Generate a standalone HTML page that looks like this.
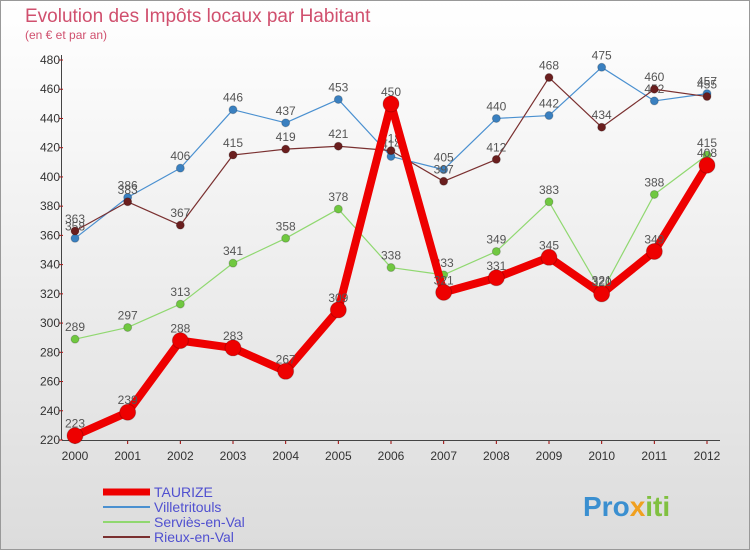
<!DOCTYPE html>
<html><head><meta charset="utf-8"><style>
body{margin:0;width:750px;height:550px;overflow:hidden;font-family:"Liberation Sans",sans-serif}
</style></head><body>
<svg id="c" width="750" height="550" xmlns="http://www.w3.org/2000/svg">
<defs><linearGradient id="bg" x1="0" y1="0" x2="0" y2="1"><stop offset="0" stop-color="#ffffff"/><stop offset="1" stop-color="#dcdcdc"/></linearGradient></defs>
<rect x="0.5" y="0.5" width="749" height="549" fill="url(#bg)" stroke="#999"/>
<text x="25" y="22" font-size="19" fill="#d0506e">Evolution des Impôts locaux par Habitant</text>
<text x="25" y="39" font-size="12" fill="#d0506e">(en € et par an)</text>
<g id="axes"></g><g id="series"></g><g id="legend"></g>
<text x="583" y="516" font-size="28" font-weight="bold" fill="#3a8fd0">Pro<tspan fill="#f0a020">x</tspan><tspan fill="#80c040">iti</tspan></text>
</svg>
<script>
const years=[2000,2001,2002,2003,2004,2005,2006,2007,2008,2009,2010,2011,2012];
const yTicks=[220,240,260,280,300,320,340,360,380,400,420,440,460,480];
const taurize=[223,239,288,283,267,309,450,321,331,345,320,349,408];
const villetritouls=[358,386,406,446,437,453,414,405,440,442,475,452,457];
const servies=[289,297,313,341,358,378,338,333,349,383,321,388,415];
const rieux=[363,383,367,415,419,421,418,397,412,468,434,460,455];
const NS="http://www.w3.org/2000/svg";
const X0=75,X1=707,Y0=440,Y1=60;
const xs=i=>X0+(X1-X0)*i/(years.length-1);
const ys=v=>Y0-(v-220)/(480-220)*(Y0-Y1);
function mk(t,a,p){const e=document.createElementNS(NS,t);for(const k in a)e.setAttribute(k,a[k]);p.appendChild(e);return e;}
const ax=document.getElementById('axes');
yTicks.forEach(v=>{
 const l=mk('line',{x1:X0-16,x2:X0-12,y1:ys(v),y2:ys(v),stroke:'#c00'},ax);
 
 
 const t=mk('text',{x:X0-15,y:ys(v)+4,'text-anchor':'end','font-size':12,fill:'#333'},ax);t.textContent=v;
 
 
});
years.forEach((y,i)=>{
 const l=mk('line',{x1:xs(i),x2:xs(i),y1:Y0,y2:Y0+4,stroke:'#900'},ax);
 
 
 const t=mk('text',{x:xs(i),y:Y0+20,'text-anchor':'middle','font-size':12,fill:'#333'},ax);t.textContent=y;
 
 
});
const a1=mk('line',{x1:X0-13,x2:X1+13,y1:Y0+.5,y2:Y0+.5,stroke:'#444'},ax);


const a2=mk('line',{x1:X0-13.5,x2:X0-13.5,y1:Y1-5,y2:Y0,stroke:'#444'},ax);


const sg=document.getElementById('series');
const series=[
 {name:'villetritouls',d:villetritouls,c:'#4a90d0',fill:'#3a80c0',w:1.2,r:4},
 {name:'rieux',d:rieux,c:'#7a3030',fill:'#6a1e1e',w:1.2,r:4},
 {name:'servies',d:servies,c:'#90d870',fill:'#70c840',w:1.2,r:4},
 {name:'taurize',d:taurize,c:'#ee0000',fill:'#ee0000',w:8,r:8}];
series.forEach(s=>{
 const g=mk('g',{},sg);
 
 
 const p=mk('polyline',{points:s.d.map((v,i)=>xs(i)+','+ys(v)).join(' '),fill:'none',stroke:s.c,'stroke-width':s.w,'stroke-linejoin':'round'},g);
 
 
 s.d.forEach((v,i)=>{
  const c=mk('circle',{cx:xs(i),cy:ys(v),r:s.r,fill:s.fill,stroke:'rgba(0,0,0,0.2)'},g);
  
  
  const t=mk('text',{x:xs(i),y:ys(v)-8,'text-anchor':'middle','font-size':12,fill:'#555'},g);t.textContent=v;
  
  
 });
});
const lg=document.getElementById('legend');
[['TAURIZE','#ee0000',7],['Villetritouls','#4a90d0',2],['Serviès-en-Val','#90d870',2],['Rieux-en-Val','#7a3030',2]].forEach((e,i)=>{
 const y=492+i*15;
 const l=mk('line',{x1:103,x2:150,y1:y,y2:y,stroke:e[1],'stroke-width':e[2]},lg);
 
 
 const t=mk('text',{x:154,y:y+5,'font-size':14,fill:'#5050d0'},lg);t.textContent=e[0];
 
 
});
</script>
</body></html>
